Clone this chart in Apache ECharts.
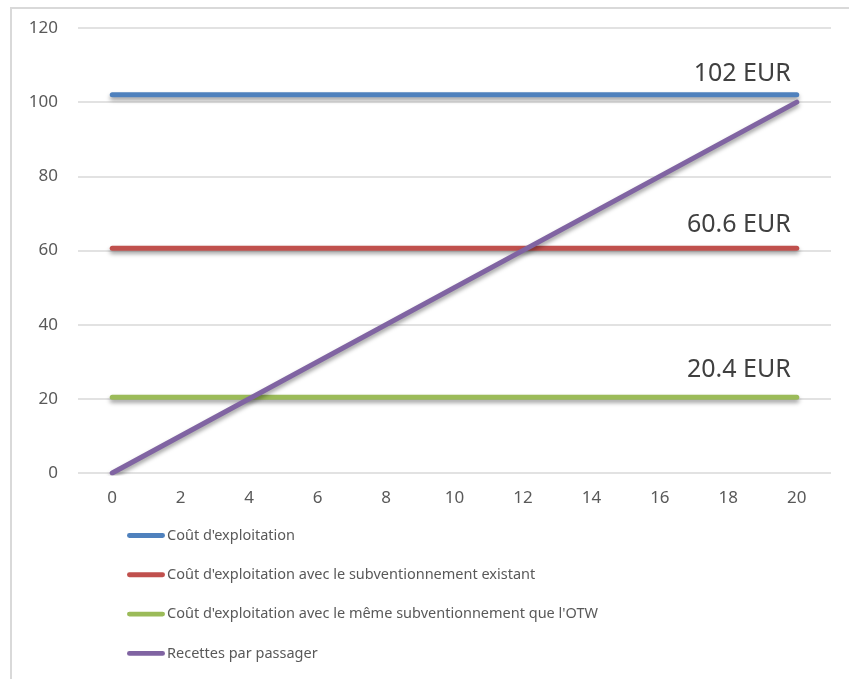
<!DOCTYPE html>
<html>
<head>
<meta charset="utf-8">
<script src="https://cdn.jsdelivr.net/npm/echarts@6/dist/echarts.min.js"></script>
<style>
html,body{margin:0;padding:0;background:#fff;}
#chart{width:849px;height:679px;}
</style>
</head>
<body>
<div id="chart"></div>
<script>
// ---- data ----
const xValues = [0, 20];
const coutExploitation = [102, 102];
const coutSubventionExistant = [60.6, 60.6];
const coutSubventionOTW = [20.4, 20.4];
const recettesParPassager = [0, 100];
const seriesNames = [
  "Coût d'exploitation",
  "Coût d'exploitation avec le subventionnement existant",
  "Coût d'exploitation avec le même subventionnement que l'OTW",
  "Recettes par passager"
];
const xTickLabels = [0, 2, 4, 6, 8, 10, 12, 14, 16, 18, 20];
const yTickLabels = [0, 20, 40, 60, 80, 100, 120];
const labelSuffix = ' EUR';

const FONT = 'Noto Sans';
const colors = ['#4F81BD', '#C0504D', '#9BBB59', '#8064A2'];

function pairs(vals) { return xValues.map((x, i) => [x, vals[i]]); }

function mkSeries(name, vals, color, labelRise) {
  const s = {
    name: name,
    type: 'line',
    data: pairs(vals),
    showSymbol: false,
    symbol: 'none',
    lineStyle: {
      color: color, width: 5, cap: 'round',
      shadowColor: 'rgba(0,0,0,0.38)', shadowBlur: 4, shadowOffsetY: 3
    },
    itemStyle: { color: color },
    emphasis: { disabled: true },
    animation: false
  };
  if (labelRise !== null) {
    s.endLabel = {
      show: true,
      distance: 0,
      align: 'right',
      verticalAlign: 'middle',
      offset: [-6, -labelRise],
      fontFamily: FONT,
      fontSize: 25,
      lineHeight: 25,
      color: '#404040',
      formatter: p => p.value[1] + labelSuffix
    };
  }
  return s;
}

const chart = echarts.init(document.getElementById('chart'), null, { renderer: 'canvas' });
chart.setOption({
  backgroundColor: '#fff',
  animation: false,
  graphic: [{
    type: 'polyline',
    shape: { points: [[11, 690], [11, 8], [860, 8]] },
    style: { stroke: '#d9d9d9', lineWidth: 2, fill: null },
    silent: true
  }],
  grid: { left: 78, right: 18, top: 28, bottom: 206, containLabel: false },
  legend: {
    orient: 'vertical',
    left: 122,
    top: 523,
    itemWidth: 38,
    itemHeight: 14,
    itemGap: 24.3,
    icon: 'path://M2,0 L36,0 A2.5,2.5 0 0 1 36,5 L2,5 A2.5,2.5 0 0 1 2,0 Z',
    textStyle: { fontFamily: FONT, fontSize: 14.5, color: '#595959', padding: [0, 0, 0, -3] },
    data: seriesNames.map((n, i) => ({ name: n, itemStyle: { color: colors[i] } })),
    selectedMode: false
  },
  xAxis: {
    type: 'value',
    min: -1, max: 21, interval: 1,
    axisLine: { show: false },
    axisTick: { show: false },
    splitLine: { show: false },
    axisLabel: {
      margin: 17,
      fontFamily: FONT, fontSize: 17, color: '#595959',
      formatter: v => xTickLabels.indexOf(v) >= 0 ? String(v) : ''
    }
  },
  yAxis: {
    type: 'value',
    min: yTickLabels[0], max: yTickLabels[yTickLabels.length - 1], interval: 20,
    axisLine: { show: false },
    axisTick: { show: false },
    splitLine: { lineStyle: { color: '#d9d9d9', width: 1.5 } },
    axisLabel: { margin: 20, fontFamily: FONT, fontSize: 17, color: '#595959' }
  },
  series: [
    mkSeries(seriesNames[0], coutExploitation, colors[0], 21),
    mkSeries(seriesNames[1], coutSubventionExistant, colors[1], 23.5),
    mkSeries(seriesNames[2], coutSubventionOTW, colors[2], 27.5),
    mkSeries(seriesNames[3], recettesParPassager, colors[3], null)
  ]
});
</script>
</body>
</html>
